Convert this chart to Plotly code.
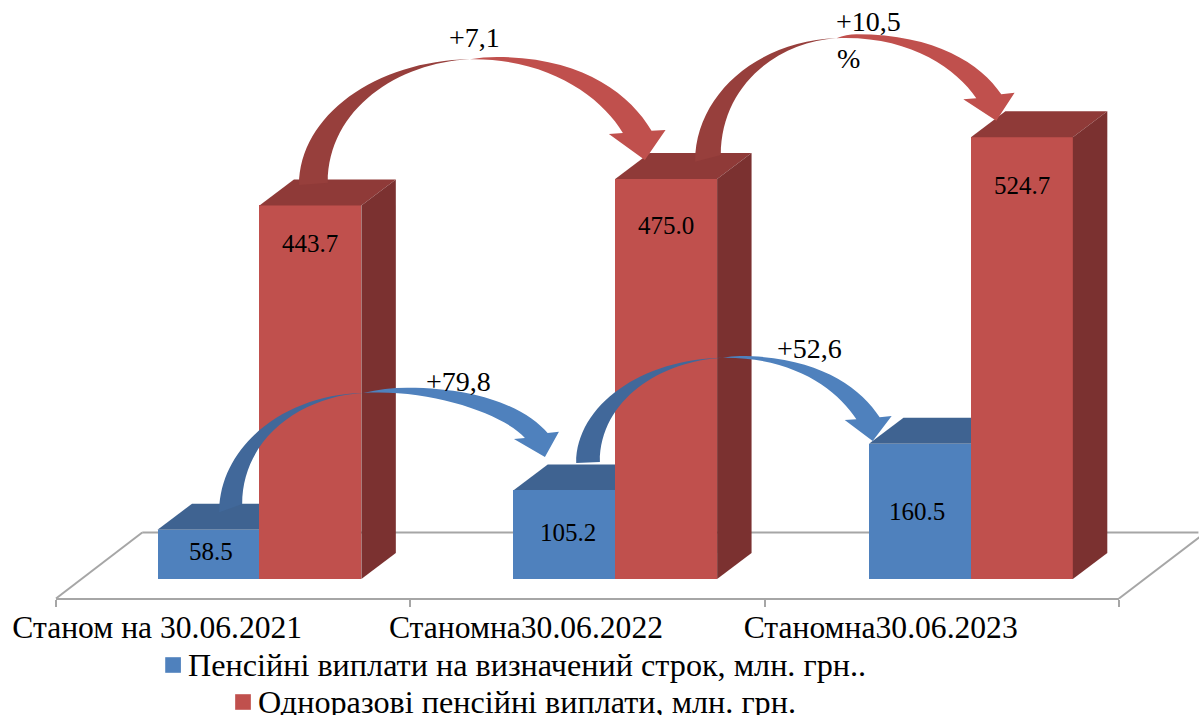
import plotly.graph_objects as go

categories = [0, 1, 2]
tick_labels = ["Станом на 30.06.2021", "Станомна30.06.2022", "Станомна30.06.2023"]
term_payments = [58.5, 105.2, 160.5]
lump_payments = [443.7, 475.0, 524.7]
term_name = "Пенсійні виплати на визначений строк, млн. грн.."
lump_name = "Одноразові пенсійні виплати, млн. грн."
term_colors = ["#4f81bd", "#3f6391"]
lump_colors = ["#c0504d", "#8f3a38", "#7b3130"]
font_name = "Liberation Serif"

# page geometry, worked out from the picture
LEFT, RIGHT, BOTTOM = 55.7, 1119.5, 598
CAT_PX, FIRST_PX = 356, 259.3     # one category in px, centre of first group
ZERO_PX, VAL_PX = 579, 0.842      # baseline and px per unit
BAR_W = 102 / CAT_PX
DX, DY = 34.5 / CAT_PX, 26 / VAL_PX  # depth of the fake 3d


def cat(px):
    return (px - FIRST_PX) / CAT_PX


def fx(px):
    return (px - LEFT) / (RIGHT - LEFT)


def fy(py):
    return (BOTTOM - py) / BOTTOM


def pp(px, py):
    return "%.5f,%.5f" % (fx(px), fy(py))


fig = go.Figure()
fig.add_trace(go.Bar(x=categories, y=term_payments, width=BAR_W, offset=-BAR_W, name=term_name,
                     marker=dict(color=term_colors[0], line_width=0)))
fig.add_trace(go.Bar(x=categories, y=lump_payments, width=BAR_W, offset=0, name=lump_name,
                     marker=dict(color=lump_colors[0], line_width=0)))

shapes = []


def poly(pts, color, layer):
    path = "M " + " L ".join("%.4f,%.4f" % p for p in pts) + " Z"
    shapes.append(dict(type="path", path=path, xref="x", yref="y", layer=layer,
                       fillcolor=color, line_width=0))


# floor behind the bars
for a, b in [((LEFT, 598.5), (142, 532.5)), ((142, 532.5), (1199, 532.5)), ((RIGHT, 598.5), (1206, 532.5))]:
    shapes.append(dict(type="path", path="M %s L %s" % (pp(*a), pp(*b)), xref="paper", yref="paper",
                       layer="below", line=dict(color="#a6a6a6", width=2)))

# tops and sides follow the values
for k, v in zip(categories, term_payments):
    poly([(k - BAR_W, v), (k - BAR_W + DX, v + DY), (k + DX, v + DY), (k, v)], term_colors[1], "below")
for k, v in zip(categories, lump_payments):
    poly([(k, v), (k + DX, v + DY), (k + BAR_W + DX, v + DY), (k + BAR_W, v)], lump_colors[1], "above")
    poly([(k + BAR_W, 0), (k + BAR_W + DX, DY), (k + BAR_W + DX, v + DY), (k + BAR_W, v)], lump_colors[2], "above")


def arrow(sl, sr, peak, top, jo, bo, tip, bi, ji, dark, light):
    # rising half, thin at the peak
    a = sl[0] + 0.45 * (peak[0] - sl[0])
    b = sr[0] + 0.5 * (peak[0] - sr[0])
    lean = 0.15 * (peak[1] - top[1]) / (top[0] - peak[0]) * (peak[0] - a)
    p1 = "M %s C %s %s %s C %s %s %s Z" % (
        pp(*sl), pp(sl[0], sl[1] - 0.55 * (sl[1] - peak[1])), pp(a, peak[1] + lean), pp(*peak),
        pp(b, peak[1] + 3), pp(sr[0], sr[1] - 0.6 * (sr[1] - peak[1])), pp(*sr))
    shapes.append(dict(type="path", path=p1, xref="paper", yref="paper", fillcolor=dark, line_width=0))
    # falling half with the head
    dx, dy = jo[0] - top[0], jo[1] - top[1]
    p2 = "M %s Q %s %s C %s %s %s L %s L %s L %s L %s C %s %s %s Z" % (
        pp(*peak), pp((peak[0] + top[0]) / 2, top[1]), pp(*top),
        pp(top[0] + 0.55 * dx, top[1]), pp(jo[0] - 0.14 * dx, jo[1] - 0.5 * dy), pp(*jo),
        pp(*bo), pp(*tip), pp(*bi), pp(*ji),
        pp(ji[0] - 0.14 * dx, ji[1] - 0.5 * dy), pp(peak[0] + 0.5 * dx, top[1] + 1), pp(*peak))
    shapes.append(dict(type="path", path=p2, xref="paper", yref="paper", fillcolor=light, line_width=0))


arrow((299, 185), (327.7, 182.7), (470, 59.3), (497, 57), (651.7, 130.7), (665.7, 130), (645, 160),
      (609, 134), (623, 133), "#973f3c", lump_colors[0])
arrow((695.3, 161.7), (721, 155), (836.7, 38.3), (856.7, 34.3), (1001.7, 94.3), (1015, 92.7), (996.7, 120.7),
      (963.7, 99.3), (976.7, 98.3), "#973f3c", lump_colors[0])
arrow((219, 512.3), (242, 504), (363, 393), (407, 387.7), (547.7, 433), (559, 431.7), (545, 457),
      (514, 439), (525, 438), "#41689a", term_colors[0])
arrow((576.3, 463), (600, 462), (723, 357.7), (740, 356), (880, 417.3), (892, 416), (873, 441),
      (845, 420), (856.7, 419.3), "#41689a", term_colors[0])

annotations = []
label_font = dict(family=font_name, size=25, color="black")
lump_drop = [38, 46, 48]
for k, v, d in zip(categories, lump_payments, lump_drop):
    annotations.append(dict(x=k + BAR_W / 2, y=v, yshift=-d, text="%.1f" % v, showarrow=False, font=label_font))
term_nudge = [(3, 3), (4, 2), (-3, 0)]
for k, v, (sx, sy) in zip(categories, term_payments, term_nudge):
    annotations.append(dict(x=k - BAR_W / 2, y=v / 2, xshift=sx, yshift=sy, text="%.1f" % v, showarrow=False,
                            font=label_font))

change_labels = ["+7,1", "+10,5", "%", "+79,8", "+52,6"]
change_px = [(446.5, 38), (834.5, 22), (835, 58), (423.5, 381), (775, 348)]
for t, (px, py) in zip(change_labels, change_px):
    annotations.append(dict(x=fx(px), y=fy(py), xref="paper", yref="paper", xanchor="left", yanchor="middle",
                            text=t, showarrow=False, font=dict(family=font_name, size=28, color="black")))

# legend is staggered in the picture, so it is laid out by hand
legend_rows = [(term_name, term_colors[0], 165, 185.3, 664.5), (lump_name, lump_colors[0], 235, 256.3, 701.5)]
for name, color, box_x, text_x, py in legend_rows:
    shapes.append(dict(type="rect", xref="paper", yref="paper", x0=fx(box_x), x1=fx(box_x + 15.7),
                       y0=fy(py + 0.5 + 7.8), y1=fy(py + 0.5 - 7.8), fillcolor=color, line_width=0))
    annotations.append(dict(x=fx(text_x), y=fy(py), xref="paper", yref="paper", xanchor="left", yanchor="middle",
                            text=name, showarrow=False, font=dict(family=font_name, size=32.2, color="black")))

label_x = [cat(157), cat(526), cat(881)]
tick_x = [cat(LEFT), cat(410), cat(765), cat(RIGHT)]

fig.update_layout(
    width=1199, height=715,
    barmode="overlay", bargap=0,
    margin=dict(l=LEFT, r=1199 - RIGHT, t=0, b=715 - BOTTOM, autoexpand=False),
    paper_bgcolor="white", plot_bgcolor="white",
    shapes=shapes, annotations=annotations,
    font=dict(family=font_name, color="black"),
    showlegend=False,
)
fig.update_xaxes(range=[cat(LEFT), cat(RIGHT)], tickmode="array", tickvals=label_x, ticktext=tick_labels,
                 ticks="", showgrid=False, zeroline=False, showline=True, linecolor="#a6a6a6", linewidth=2,
                 tickfont=dict(family=font_name, size=31.6, color="black"), ticklabelstandoff=0,
                 minor=dict(tickmode="array", tickvals=tick_x, ticks="outside", ticklen=7, tickwidth=2,
                            tickcolor="#a6a6a6", showgrid=False))
fig.update_yaxes(visible=False, range=[(ZERO_PX - BOTTOM) / VAL_PX, ZERO_PX / VAL_PX])

# the page's default body margin would push everything 8px down and right
fig.write_html("out.html", config=dict(displayModeBar=False), post_script="document.body.style.margin = '0';")
